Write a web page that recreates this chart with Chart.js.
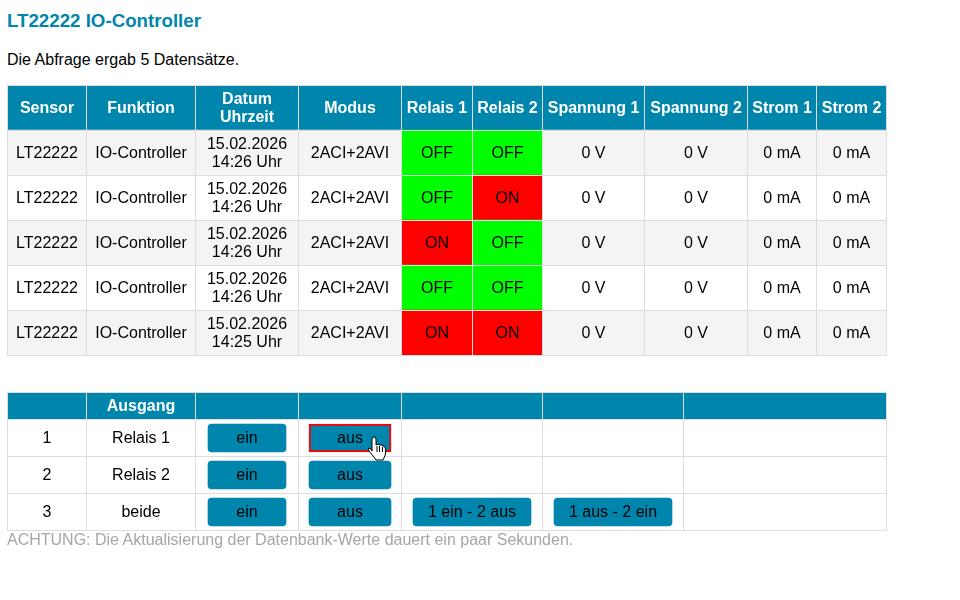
<!DOCTYPE html>
<html lang="de">
<head>
<meta charset="utf-8">
<title>LT22222 IO-Controller</title>
<script src="https://cdn.jsdelivr.net/npm/chart.js@4/dist/chart.umd.min.js"></script>
<style>
    html, body { margin: 0; padding: 0; background: #fff; overflow: hidden; }
    body { width: 960px; height: 600px; position: relative; font-family: "Liberation Sans", Arial, sans-serif; }
    canvas { position: absolute; left: 7px; display: block; }
    .line { position: absolute; left: 7px; white-space: nowrap; font-size: 16px; line-height: 18px; }
    #title { top: 10px; font-size: 18.72px; line-height: 22px; font-weight: bold; color: #0085ad; }
    #info { top: 51px; color: #000; }
    #note { top: 531px; color: #a6a6a6; }
</style>
</head>
<body>
<div class="line" id="title">LT22222 IO-Controller</div>
<div class="line" id="info">Die Abfrage ergab 5 Datensätze.</div>
<canvas id="dataTable" width="880" height="272" style="top:85px"></canvas>
<canvas id="controlHead" width="880" height="29" style="top:392px"></canvas>
<canvas id="controlRows" width="880" height="113" style="top:419px"></canvas>
<div class="line" id="note">ACHTUNG: Die Aktualisierung der Datenbank-Werte dauert ein paar Sekunden.</div>

<script>
    // Table values
    const headers = ['Sensor', 'Funktion', 'Datum\nUhrzeit', 'Modus', 'Relais 1', 'Relais 2', 'Spannung 1', 'Spannung 2', 'Strom 1', 'Strom 2'];
    const sensors = ['LT22222', 'LT22222', 'LT22222', 'LT22222', 'LT22222'];
    const functions = ['IO-Controller', 'IO-Controller', 'IO-Controller', 'IO-Controller', 'IO-Controller'];
    const dates = ['15.02.2026', '15.02.2026', '15.02.2026', '15.02.2026', '15.02.2026'];
    const times = ['14:26 Uhr', '14:26 Uhr', '14:26 Uhr', '14:26 Uhr', '14:25 Uhr'];
    const modes = ['2ACI+2AVI', '2ACI+2AVI', '2ACI+2AVI', '2ACI+2AVI', '2ACI+2AVI'];
    const relay1 = ['OFF', 'OFF', 'ON', 'OFF', 'ON'];
    const relay2 = ['OFF', 'ON', 'OFF', 'OFF', 'ON'];
    const voltage1 = [0, 0, 0, 0, 0];
    const voltage2 = [0, 0, 0, 0, 0];
    const current1 = [0, 0, 0, 0, 0];
    const current2 = [0, 0, 0, 0, 0];

    const controlHeaders = ['', 'Ausgang', '', '', '', '', ''];
    const outputNumbers = ['1', '2', '3'];
    const outputNames = ['Relais 1', 'Relais 2', 'beide'];
    const buttonsOn = ['ein', 'ein', 'ein'];
    const buttonsOff = ['aus', 'aus', 'aus'];
    const buttons1on2off = [null, null, '1 ein - 2 aus'];
    const buttons1off2on = [null, null, '1 aus - 2 ein'];

    // Layout, on the x scale that runs in page pixels
    const dataEdges = [7, 86, 195, 298, 401, 472, 542, 644, 747, 816, 886];
    const controlEdges = [7, 86, 195, 298, 401, 542, 683, 886];
    const buttonRanges = [[208, 286], [309, 391], [413, 531], [554, 672]];

    const TEAL = '#0085ad';
    const GRID = '#dddddd';
    const STRIPE = '#f4f4f4';
    const FONT = '"Liberation Sans", Arial, sans-serif';

    // Rows are an odd number of pixels high, so move the buttons onto whole pixels
    const snapButtons = {
        id: 'snapButtons',
        beforeDatasetsDraw(chart) {
            chart.data.datasets.forEach((ds, d) => {
                if (!ds.barThickness) return;
                chart.getDatasetMeta(d).data.forEach(bar => { bar.y = Math.ceil(bar.y); });
            });
        }
    };

    // Draws the text of every bar in the middle of that bar
    const cellText = {
        id: 'cellText',
        afterDraw(chart) {
            const ctx = chart.ctx;
            ctx.save();
            ctx.textAlign = 'center';
            ctx.textBaseline = 'alphabetic';
            chart.data.datasets.forEach((ds, d) => {
                chart.getDatasetMeta(d).data.forEach((bar, i) => {
                    if (!ds.texts || !ds.texts[i]) return;
                    const lines = ds.texts[i].split('\n');
                    const cx = (bar.x + bar.base) / 2 + (ds.textShift || 0);
                    ctx.font = (ds.bold ? 'bold ' : '') + '16px ' + FONT;
                    ctx.fillStyle = ds.textColor || '#000';
                    lines.forEach((line, n) => {
                        ctx.fillText(line, cx, Math.round(bar.y + 5 + (n - (lines.length - 1) / 2) * 18));
                    });
                });
            });
            ctx.restore();
        }
    };

    // Mouse pointer resting on the selected button
    const selected = { column: 1, row: 0 };
    const handShape = [[0, 2], [1, 0], [3, 0], [4, 2], [4, 8], [6, 7], [8, 8], [10, 8], [11, 9], [13, 10], [13.5, 12], [13.5, 17], [12, 21], [11, 23], [4, 23], [2, 20], [-3, 14], [-4, 12], [-3, 11], [-1, 12], [0, 14]];
    const handFolds = [[[5, 9], [5, 15]], [[7.5, 9], [7.5, 15]], [[10.5, 10], [10.5, 15]]];
    const handCursor = {
        id: 'handCursor',
        afterDraw(chart) {
            const bar = chart.getDatasetMeta(selected.column).data[selected.row];
            const ctx = chart.ctx;
            ctx.save();
            ctx.translate(bar.x - 19, bar.y - 1);
            ctx.beginPath();
            handShape.forEach(([x, y], i) => i ? ctx.lineTo(x, y) : ctx.moveTo(x, y));
            ctx.closePath();
            ctx.fillStyle = '#fff';
            ctx.fill();
            ctx.strokeStyle = '#000';
            ctx.lineWidth = 1;
            ctx.stroke();
            handFolds.forEach(([a, b]) => {
                ctx.beginPath();
                ctx.moveTo(a[0], a[1]);
                ctx.lineTo(b[0], b[1]);
                ctx.stroke();
            });
            ctx.restore();
        }
    };

    function columnDatasets(edges, rowCount, colorOf, textOf, bold, textColor) {
        return edges.slice(0, -1).map((edge, c) => {
            const rows = Array.from({ length: rowCount }, (_, r) => r);
            return {
                data: rows.map(() => [edge, edges[c + 1]]),
                backgroundColor: rows.map(r => colorOf(c, r)),
                texts: rows.map(r => textOf(c, r)),
                bold: bold,
                textColor: textColor,
                textShift: 0.5,
                grouped: false,
                barPercentage: 1,
                categoryPercentage: 1
            };
        });
    }

    function drawTable(id, labels, edges, datasets, plugins) {
        return new Chart(document.getElementById(id), {
            type: 'bar',
            data: { labels: labels, datasets: datasets },
            plugins: [snapButtons, cellText].concat(plugins || []),
            options: {
                indexAxis: 'y',
                responsive: false,
                animation: false,
                events: [],
                layout: { padding: { top: 0, left: 0, right: 0, bottom: 2 } },
                plugins: { legend: { display: false }, tooltip: { enabled: false } },
                scales: {
                    x: {
                        type: 'linear',
                        min: 7,
                        max: 887,
                        afterBuildTicks: scale => { scale.ticks = edges.map(v => ({ value: v })); },
                        ticks: { display: false, autoSkip: false },
                        border: { display: false },
                        grid: { color: GRID, z: 1, drawTicks: false }
                    },
                    y: {
                        ticks: { display: false, autoSkip: false },
                        border: { display: false },
                        grid: { color: GRID, z: 1, drawTicks: false, offset: true }
                    }
                }
            }
        });
    }

    // Measurement table
    const dataColumns = [
        sensors,
        functions,
        dates.map((d, i) => d + '\n' + times[i]),
        modes,
        relay1,
        relay2,
        voltage1.map(v => v + ' V'),
        voltage2.map(v => v + ' V'),
        current1.map(v => v + ' mA'),
        current2.map(v => v + ' mA')
    ];
    const dataLabels = ['Kopf'].concat(sensors.map((_, i) => 'Zeile ' + (i + 1)));
    const relayColor = state => state === 'ON' ? '#ff0000' : '#00ff00';

    drawTable('dataTable', dataLabels, dataEdges, columnDatasets(dataEdges, 6, (c, r) => {
        if (r === 0) return TEAL;
        if (c === 4 || c === 5) return relayColor(dataColumns[c][r - 1]);
        return r % 2 ? STRIPE : '#fff';
    }, (c, r) => r === 0 ? null : dataColumns[c][r - 1], false, '#000')
        .concat(columnDatasets(dataEdges, 1, () => 'transparent', c => headers[c], true, '#fff')));

    // Control table
    drawTable('controlHead', ['Kopf'], controlEdges,
        columnDatasets(controlEdges, 1, () => TEAL, c => controlHeaders[c], true, '#fff'));

    const controlCells = columnDatasets(controlEdges, 3, () => '#fff', (c, r) => {
        if (c === 0) return outputNumbers[r];
        if (c === 1) return outputNames[r];
        return null;
    }, false, '#000');

    // Chart.js paints the first dataset last, so the buttons come first
    const buttonColumns = [buttonsOn, buttonsOff, buttons1on2off, buttons1off2on];
    const buttonCells = buttonColumns.map((texts, b) => ({
        data: texts.map(t => t ? buttonRanges[b] : null),
        texts: texts,
        backgroundColor: TEAL,
        borderColor: '#ff0000',
        borderWidth: c => (b === selected.column && c.dataIndex === selected.row) ? 2 : 0,
        borderRadius: c => (b === selected.column && c.dataIndex === selected.row) ? 0 : 4,
        borderSkipped: false,
        textColor: '#000',
        grouped: false,
        barThickness: 28
    }));

    drawTable('controlRows', outputNumbers, controlEdges, buttonCells.concat(controlCells), [handCursor]);
</script>
</body>
</html>
